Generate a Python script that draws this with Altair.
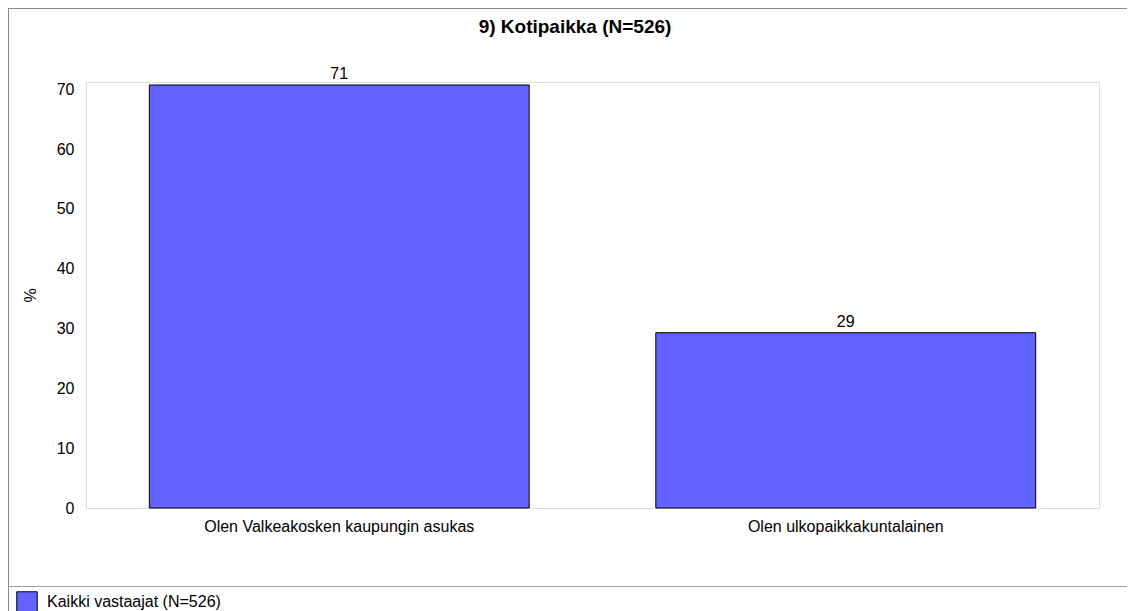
import altair as alt
import pandas as pd

categories = ["Olen Valkeakosken kaupungin asukas", "Olen ulkopaikkakuntalainen"]
values = [70.7, 29.3]
labels = ["71", "29"]
series = "Kaikki vastaajat (N=526)"
title_text = "9) Kotipaikka (N=526)"

df = pd.DataFrame({"cat": categories, "val": values, "lab": labels, "series": [series] * len(categories)})

FONT = "Liberation Sans"
FS = 16
W, H = 1013, 426
PL, PT = 78, 74

x_enc = alt.X("cat:N", sort=categories, title=None,
              scale=alt.Scale(paddingInner=0.25, paddingOuter=0.125),
              axis=alt.Axis(labelAngle=0, ticks=False, domain=False, labelPadding=10,
                            labelLimit=0, labelFontSize=FS, labelColor="#000", labelFont=FONT))
y_enc = alt.Y("val:Q", title="%",
              scale=alt.Scale(domain=[0, 71.2], nice=False, zero=True),
              axis=alt.Axis(values=[0, 10, 20, 30, 40, 50, 60, 70], ticks=False, domain=False,
                            grid=False, labelPadding=12, labelFontSize=FS, labelColor="#000",
                            labelFont=FONT, titleFontSize=FS, titleFontWeight="normal",
                            titleColor="#000", titlePadding=18, titleFont=FONT))

bars = alt.Chart(df).mark_bar(stroke="#000", strokeWidth=1).encode(
    x=x_enc, y=y_enc,
    color=alt.Color("series:N", title=None,
                    scale=alt.Scale(domain=[series], range=["#6262ff"]),
                    legend=alt.Legend(orient="none", legendX=-70, legendY=509,
                                      symbolType="square", symbolSize=420,
                                      symbolStrokeColor="#000", symbolStrokeWidth=1,
                                      symbolOpacity=1, labelFontSize=FS, labelFont=FONT,
                                      labelColor="#000", labelOffset=9, labelLimit=0,
                                      padding=0)),
)

text = alt.Chart(df).mark_text(baseline="alphabetic", dy=-6, fontSize=FS, font=FONT, color="#000").encode(
    x=alt.X("cat:N", sort=categories), y="val:Q", text="lab:N")

one = alt.Data(values=[{"a": 1}])
title = alt.Chart(one).mark_text(fontSize=19, font=FONT, fontWeight="bold", color="#000",
                                 baseline="middle", align="center").encode(
    x=alt.value(489), y=alt.value(-55), text=alt.value(title_text))
frame_left = alt.Chart(one).mark_rule(color="#888888", strokeWidth=1).encode(
    x=alt.value(-77.5), y=alt.value(-74), y2=alt.value(H + 103))
frame_top = alt.Chart(one).mark_rule(color="#888888", strokeWidth=1).encode(
    x=alt.value(-78), x2=alt.value(W + 40), y=alt.value(-73.5))
sep = alt.Chart(one).mark_rule(color="#a0a0a0", strokeWidth=1).encode(
    x=alt.value(-78), x2=alt.value(W + 40), y=alt.value(504.5))

chart = alt.layer(bars, text, title, frame_left, frame_top, sep).properties(
    width=W, height=H,
    autosize=alt.AutoSizeParams(type="none"),
    padding={"left": PL, "top": PT, "right": 28, "bottom": 103},
).configure_view(stroke="#a0a0a0", strokeWidth=1).configure(background="white")

chart.save("out.html", embed_options={"renderer": "svg", "actions": False})
